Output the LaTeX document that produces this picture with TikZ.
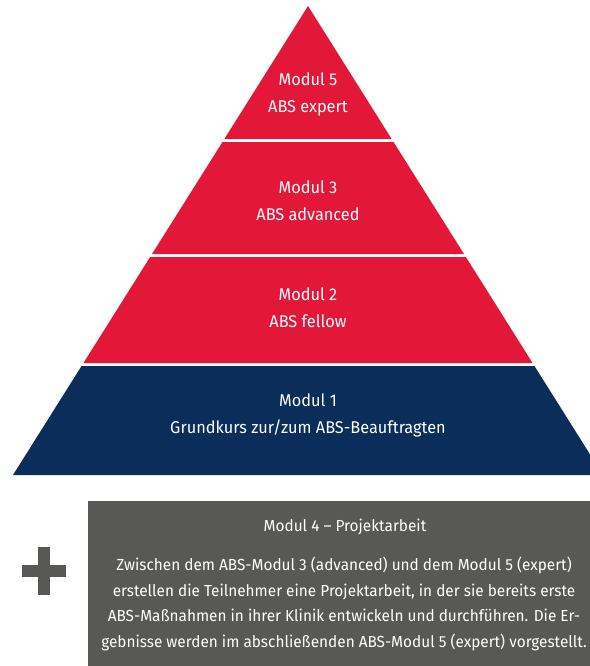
\documentclass[tikz,border=0pt]{standalone}
\usepackage{fontspec}
\setmainfont{Fira Sans}[FakeStretch=0.96]

\definecolor{absred}{HTML}{E31737}
\definecolor{absnavy}{HTML}{0A2D5A}
\definecolor{absgrey}{HTML}{585857}

\begin{document}
\begin{tikzpicture}[
    x=1pt, y=-1pt,
    every node/.style={text=white, align=center},
    bandtext/.style={font=\fontsize{17}{27}\selectfont},
    boxtext/.style={font=\fontsize{16}{25.7}\selectfont},
]

% Parameters
\def\apexX{308}
\def\apexY{6}
\def\baseY{475}
\def\halfbase{295}

\useasboundingbox (0,0) rectangle (589,666);

% === Pyramid bands (top/bottom edge, colour) ===
\pgfmathsetmacro{\slope}{\halfbase/(\baseY-\apexY)}
\foreach \ytop/\ybot/\col in {6/139/absred, 142/254/absred, 257/363/absred, 366/475/absnavy} {
    \pgfmathsetmacro{\wt}{\slope*(\ytop-\apexY)}
    \pgfmathsetmacro{\wb}{\slope*(\ybot-\apexY)}
    \fill[\col] (\apexX-\wt,\ytop) -- (\apexX+\wt,\ytop)
        -- (\apexX+\wb,\ybot) -- (\apexX-\wb,\ybot) -- cycle;
}

% === Band labels ===
\node[bandtext] (modfive) at (\apexX,94) {Modul 5\\ABS expert};
\node[bandtext] (modthree) at (\apexX,201) {Modul 3\\ABS advanced};
\node[bandtext] (modtwo) at (\apexX,308) {Modul 2\\ABS fellow};
\node[bandtext] (modone) at (\apexX,415) {Modul 1\\Grundkurs zur/zum ABS-Beauftragten};

% === Project work box ===
\fill[absgrey] (88,501) rectangle (602,670);
\node[boxtext] (modfour) at (345,527) {Modul 4 – Projektarbeit};
\node[boxtext] (modfourtext) at (344,604) {Zwischen dem ABS-Modul 3 (advanced) und dem Modul 5 (expert)\\
    erstellen die Teilnehmer eine Projektarbeit, in der sie bereits erste\\
    ABS-Maßnahmen in ihrer Klinik entwickeln und durchführen. Die Er-\\
    gebnisse werden im abschließenden ABS-Modul 5 (expert) vorgestellt.};

% === Plus sign ===
\fill[absgrey] (38,547) rectangle (50,595);
\fill[absgrey] (22,565) rectangle (66,577);

\end{tikzpicture}
\end{document}
